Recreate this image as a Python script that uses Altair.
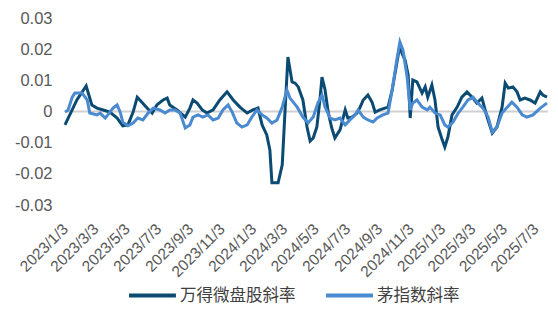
import altair as alt
import pandas as pd

# 万得微盘股斜率
micro_dates = [
    "2023-01-03", "2023-01-26", "2023-02-13", "2023-02-24", "2023-03-06", "2023-03-18", "2023-03-31",
    "2023-04-14", "2023-04-25", "2023-05-05", "2023-05-15", "2023-05-23", "2023-05-28", "2023-06-11",
    "2023-06-21", "2023-06-30", "2023-07-12", "2023-07-20", "2023-07-25", "2023-08-08", "2023-08-24",
    "2023-09-02", "2023-09-08", "2023-09-16", "2023-09-26", "2023-10-05", "2023-10-17", "2023-10-30",
    "2023-11-13", "2023-11-25", "2023-12-08", "2023-12-22", "2024-01-02", "2024-01-12", "2024-01-20",
    "2024-01-29", "2024-02-04", "2024-02-08", "2024-02-20", "2024-02-28", "2024-03-04", "2024-03-10",
    "2024-03-18", "2024-03-24", "2024-03-30", "2024-04-08", "2024-04-16", "2024-04-22", "2024-04-28",
    "2024-05-05", "2024-05-11", "2024-05-15", "2024-05-21", "2024-05-27", "2024-06-03", "2024-06-09",
    "2024-06-19", "2024-06-29", "2024-07-04", "2024-07-12", "2024-07-22", "2024-07-28", "2024-08-03",
    "2024-08-12", "2024-08-20", "2024-08-26", "2024-09-04", "2024-09-14", "2024-09-20", "2024-09-28",
    "2024-10-07", "2024-10-13", "2024-10-17", "2024-10-23", "2024-10-29", "2024-11-02", "2024-11-07",
    "2024-11-15", "2024-11-25", "2024-12-01", "2024-12-06", "2024-12-14", "2024-12-20", "2024-12-26",
    "2025-01-03", "2025-01-08", "2025-01-14", "2025-01-22", "2025-02-01", "2025-02-10", "2025-02-20",
    "2025-03-02", "2025-03-11", "2025-03-21", "2025-03-31", "2025-04-10", "2025-04-19", "2025-04-29",
    "2025-05-05", "2025-05-11", "2025-05-20", "2025-05-28", "2025-06-03", "2025-06-12", "2025-06-22",
    "2025-07-02", "2025-07-12", "2025-07-17", "2025-07-25",
]
micro_values = [
    -0.0043, 0.0037, 0.0082, 0.0021, 0.0011, 0.0005, -0.0002,
    -0.0021, -0.0046, -0.0043, -0.0002, 0.0046, 0.0037, 0.0011,
    -0.0005, 0.0021, 0.0037, 0.0043, 0.0021, 0.0005, -0.0018,
    0.0011, 0.0037, 0.0027, 0.0005, -0.0005, 0.0005, 0.0037,
    0.0063, 0.0037, 0.0014, -0.0005, 0.0005, 0.0011, -0.0043,
    -0.0075, -0.0123, -0.0229, -0.0229, -0.0171, -0.0011, 0.0175,
    0.0095, 0.0091, 0.0079, 0.0037, -0.0050, -0.0095, -0.0085,
    -0.0050, 0.0037, 0.0110, 0.0069, -0.0002, -0.0053, -0.0085,
    -0.0059, 0.0005, -0.0021, -0.0018, -0.0005, 0.0014, 0.0037,
    0.0053, 0.0030, -0.0002, 0.0005, 0.0011, 0.0014, 0.0069,
    0.0155, 0.0213, 0.0187, 0.0165, 0.0117, -0.0021, 0.0101,
    0.0095, 0.0059, 0.0079, 0.0046, 0.0085, 0.0037, -0.0050,
    -0.0091, -0.0114, -0.0082, -0.0011, 0.0014, 0.0046, 0.0063,
    0.0046, 0.0027, 0.0043, -0.0018, -0.0069, -0.0050, 0.0014,
    0.0091, 0.0075, 0.0079, 0.0063, 0.0037, 0.0043, 0.0037,
    0.0027, 0.0063, 0.0053, 0.0046,
]

# 茅指数斜率
mao_dates = [
    "2023-01-03", "2023-01-09", "2023-01-17", "2023-01-22", "2023-02-05", "2023-02-15", "2023-02-20",
    "2023-03-06", "2023-03-12", "2023-03-22", "2023-03-27", "2023-04-06", "2023-04-14", "2023-04-20",
    "2023-04-25", "2023-05-05", "2023-05-15", "2023-05-24", "2023-06-03", "2023-06-13", "2023-06-23",
    "2023-07-06", "2023-07-16", "2023-07-25", "2023-08-04", "2023-08-14", "2023-08-24", "2023-09-02",
    "2023-09-08", "2023-09-18", "2023-09-27", "2023-10-07", "2023-10-17", "2023-10-27", "2023-11-05",
    "2023-11-15", "2023-11-23", "2023-12-02", "2023-12-12", "2023-12-22", "2023-12-31", "2024-01-10",
    "2024-01-20", "2024-01-29", "2024-02-08", "2024-02-18", "2024-02-28", "2024-03-08", "2024-03-14",
    "2024-03-28", "2024-04-08", "2024-04-18", "2024-04-28", "2024-05-07", "2024-05-15", "2024-05-21",
    "2024-05-31", "2024-06-09", "2024-06-19", "2024-06-29", "2024-07-08", "2024-07-18", "2024-07-24",
    "2024-08-03", "2024-08-12", "2024-08-22", "2024-08-30", "2024-09-10", "2024-09-20", "2024-09-28",
    "2024-10-07", "2024-10-13", "2024-10-19", "2024-10-27", "2024-11-02", "2024-11-07", "2024-11-15",
    "2024-11-25", "2024-12-05", "2024-12-10", "2024-12-20", "2024-12-30", "2025-01-08", "2025-01-14",
    "2025-01-24", "2025-02-03", "2025-02-12", "2025-02-22", "2025-03-04", "2025-03-13", "2025-03-23",
    "2025-04-02", "2025-04-10", "2025-04-19", "2025-04-29", "2025-05-09", "2025-05-18", "2025-05-28",
    "2025-06-07", "2025-06-16", "2025-06-28", "2025-07-12", "2025-07-25",
]
mao_values = [
    -0.0002, 0.0005, 0.0046, 0.0059, 0.0059, 0.0037, -0.0005,
    -0.0011, -0.0005, -0.0021, -0.0011, 0.0011, 0.0021, -0.0002,
    -0.0034, -0.0046, -0.0037, -0.0021, -0.0027, -0.0005, 0.0011,
    0.0005, -0.0005, 0.0005, 0.0005, -0.0005, -0.0053, -0.0043,
    -0.0018, -0.0011, -0.0018, -0.0011, -0.0027, -0.0021, 0.0005,
    0.0021, -0.0002, -0.0037, -0.0050, -0.0043, -0.0018, 0.0005,
    -0.0011, -0.0021, -0.0037, -0.0027, 0.0014, 0.0069, 0.0043,
    0.0014, -0.0018, -0.0037, -0.0018, 0.0027, 0.0053, 0.0014,
    -0.0021, -0.0027, -0.0021, -0.0043, -0.0027, -0.0011, 0.0005,
    -0.0018, -0.0027, -0.0034, -0.0021, -0.0011, -0.0005, 0.0069,
    0.0165, 0.0223, 0.0197, 0.0110, 0.0005, 0.0027, 0.0037,
    0.0014, 0.0005, 0.0014, -0.0005, -0.0011, -0.0043, -0.0050,
    -0.0034, -0.0005, 0.0014, 0.0037, 0.0046, 0.0027, 0.0011,
    -0.0018, -0.0066, -0.0050, -0.0005, 0.0014, 0.0030, 0.0014,
    -0.0011, -0.0018, -0.0011, 0.0011, 0.0027,
]

series_names = ["万得微盘股斜率", "茅指数斜率"]
series_colors = ["#0b4a72", "#4a8ad0"]

tick_dates = [
    "2023-01-03", "2023-03-03", "2023-05-03", "2023-07-03", "2023-09-03", "2023-11-03",
    "2024-01-03", "2024-03-03", "2024-05-03", "2024-07-03", "2024-09-03", "2024-11-03",
    "2025-01-03", "2025-03-03", "2025-05-03", "2025-07-03",
]
y_ticks = [-0.03, -0.02, -0.01, 0, 0.01, 0.02, 0.03]

df = pd.concat([
    pd.DataFrame({"date": micro_dates, "value": micro_values, "series": series_names[0]}),
    pd.DataFrame({"date": mao_dates, "value": mao_values, "series": series_names[1]}),
])
df["date"] = pd.to_datetime(df["date"])
df["order"] = df["series"].map({series_names[0]: 0, series_names[1]: 1})

zero_df = pd.DataFrame({"v": [0]})

x_scale = alt.Scale(domain=[
    alt.DateTime(year=2023, month=1, date=3),
    alt.DateTime(year=2025, month=7, date=27),
])
y_scale = alt.Scale(domain=[-0.03, 0.03], nice=False)

y_axis = alt.Axis(
    values=y_ticks,
    labelExpr="datum.value == 0 ? '0' : (datum.value < 0 ? '-' : '') + format(abs(datum.value), '.2f')",
    labelFontSize=16.5,
    labelFont="Liberation Sans",
    labelColor="#595959",
    labelPadding=13,
    labelOverlap=False,
    domain=False,
    ticks=False,
    grid=False,
)

zero_line = alt.Chart(zero_df).mark_rule(color="#d0d0d0", strokeWidth=2).encode(
    y=alt.Y("v:Q", scale=y_scale, title=None, axis=y_axis)
)

lines = alt.Chart(df).mark_line(strokeWidth=3).encode(
    x=alt.X(
        "date:T",
        scale=x_scale,
        title=None,
        axis=alt.Axis(
            values=[alt.DateTime(year=int(d[:4]), month=int(d[5:7]), date=int(d[8:])) for d in tick_dates],
            format="%Y/%-m/%-d",
            labelAngle=-45,
            labelAlign="right",
            labelBaseline="middle",
            labelPadding=21,
            labelFontSize=15.5,
            labelFont="Liberation Sans",
            labelColor="#595959",
            domain=False,
            ticks=False,
            grid=False,
            labelOverlap=False,
        ),
    ),
    y=alt.Y("value:Q", scale=y_scale, title=None, axis=y_axis),
    color=alt.Color(
        "series:N",
        scale=alt.Scale(domain=series_names, range=series_colors),
        sort=series_names,
        legend=alt.Legend(
            title=None,
            orient="none",
            direction="horizontal",
            legendX=62,
            legendY=252,
            symbolType="stroke",
            symbolSize=2200,
            symbolStrokeWidth=4,
            labelFont="Noto Sans CJK SC",
            labelFontSize=16.5,
            labelColor="#404040",
            labelOffset=2,
            columnPadding=22,
        ),
    ),
    order=alt.Order("order:Q"),
)

chart = (zero_line + lines).properties(
    width=483,
    height=187,
    background="white",
    autosize=alt.AutoSizeParams(type="none"),
    padding={"left": 65, "top": 18, "right": 10, "bottom": 107},
).configure_view(stroke=None)

chart.save("out.html", embed_options={"renderer": "svg", "actions": False})
